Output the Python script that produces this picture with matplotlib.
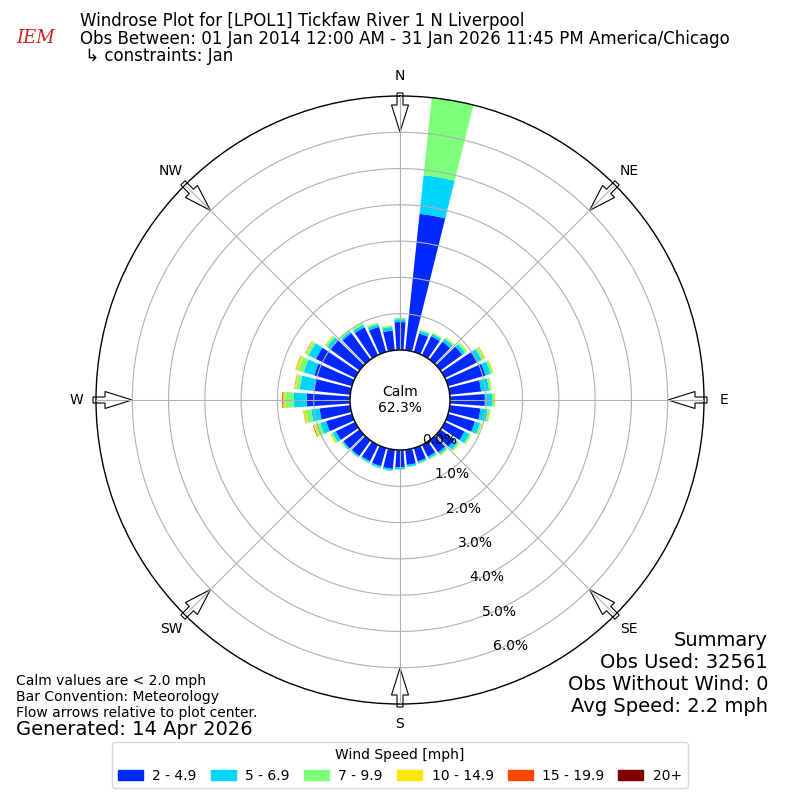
import numpy as np
import matplotlib
matplotlib.use("Agg")
import matplotlib.pyplot as plt
from matplotlib.patches import Circle, FancyArrow, Rectangle
from matplotlib.transforms import offset_copy

# Direction bins (degrees, meteorological) and percent frequency per speed bin
directions = np.arange(0, 360, 10)
speed_labels = ["2 - 4.9", "5 - 6.9", "7 - 9.9", "10 - 14.9", "15 - 19.9", "20+"]

spd_2_5 = [0.77, 3.78, 0.53, 0.58, 0.61, 0.74, 0.98, 1.07, 0.87, 0.96,
           0.85, 0.77, 0.60, 0.48, 0.41, 0.36, 0.38, 0.42, 0.48, 0.53,
           0.52, 0.50, 0.53, 0.55, 0.59, 0.74, 0.85, 1.19, 1.02, 1.08,
           1.20, 0.99, 0.90, 0.85, 0.72, 0.55]
spd_5_7 = [0.08, 1.07, 0.08, 0.07, 0.10, 0.10, 0.15, 0.15, 0.22, 0.20,
           0.20, 0.15, 0.15, 0.12, 0.06, 0.06, 0.05, 0.05, 0.05, 0.05,
           0.05, 0.05, 0.04, 0.04, 0.10, 0.17, 0.23, 0.37, 0.38, 0.30,
           0.22, 0.12, 0.06, 0.08, 0.08, 0.10]
spd_7_10 = [0.04, 2.15, 0.03, 0.03, 0.05, 0.06, 0.07, 0.07, 0.06, 0.07,
            0.06, 0.05, 0.05, 0.05, 0.04, 0.03, 0.02, 0.02, 0.02, 0.02,
            0.02, 0.02, 0.02, 0.03, 0.05, 0.14, 0.16, 0.23, 0.10, 0.17,
            0.08, 0.06, 0.05, 0.05, 0.04, 0.04]
spd_10_15 = [0.0, 0.0, 0.01, 0.01, 0.01, 0.02, 0.03, 0.02, 0.02, 0.02,
             0.02, 0.01, 0.01, 0.01, 0.01, 0.0, 0.0, 0.0, 0.0, 0.0,
             0.0, 0.0, 0.0, 0.0, 0.03, 0.05, 0.05, 0.05, 0.04, 0.06,
             0.03, 0.02, 0.01, 0.01, 0.01, 0.01]
spd_15_20 = [0.0, 0.0, 0.0, 0.0, 0.0, 0.0, 0.01, 0.0, 0.0, 0.0,
             0.0, 0.0, 0.0, 0.0, 0.0, 0.0, 0.0, 0.0, 0.0, 0.0,
             0.0, 0.0, 0.0, 0.0, 0.0, 0.02, 0.01, 0.03, 0.01, 0.01,
             0.01, 0.0, 0.0, 0.0, 0.0, 0.0]
spd_20 = [0.0] * 36

radial_ticks = [0, 1, 2, 3, 4, 5, 6]
compass = ["N", "NE", "E", "SE", "S", "SW", "W", "NW"]
summary = ["Summary", "Obs Used: 32561", "Obs Without Wind: 0",
           "Avg Speed: 2.2 mph"]

series = [spd_2_5, spd_5_7, spd_7_10, spd_10_15, spd_15_20, spd_20]
colors = plt.get_cmap("jet")(np.linspace(0, 1, 7)[1:])

fig = plt.figure(figsize=(8, 8), dpi=100)
ax = fig.add_axes([0.12, 0.12, 0.76, 0.76], projection="polar")
ax.set_theta_zero_location("N")
ax.set_theta_direction(-1)
ax.set_ylim(0, 7)
ax.set_rorigin(-1.378)
ax.set_axisbelow(False)

theta = np.deg2rad(directions)
width = np.deg2rad(8)
bottom = np.zeros(len(directions))
for vals, c, lab in zip(series, colors, speed_labels):
    vals = np.array(vals)
    ax.bar(theta, vals, width=width, bottom=bottom, color=c, linewidth=0,
           label=lab, zorder=1)
    bottom += vals

ax.set_xticks(np.deg2rad(np.arange(0, 360, 45)))
ax.set_xticklabels([])
ax.set_yticks(radial_ticks)
ax.set_yticklabels([])
ax.grid(True, color="#b0b0b0", linewidth=0.8)
ax.spines["polar"].set_linewidth(1.0)

# radial labels
lab_trans = offset_copy(ax.transData, fig=fig, x=23.7, y=7.3, units="dots")
for r in radial_ticks:
    ax.text(np.deg2rad(161), r, "%.1f%%" % r, transform=lab_trans,
            ha="center", va="center", fontsize=10, zorder=5)

# compass labels
for i, name in enumerate(compass):
    ax.text(np.deg2rad(i * 45), 7.55, name, ha="center", va="center",
            fontsize=10)

# calm circle
ax.add_patch(Circle((0.5, 0.5), 50 / 608, transform=ax.transAxes,
                    facecolor="white", edgecolor="black", linewidth=1.0,
                    zorder=3, clip_on=False))
ax.text(0.5, 0.5, "Calm\n62.3%", transform=ax.transAxes, ha="center",
        va="center", fontsize=10, zorder=4)

# flow arrows
for i in range(8):
    a = np.deg2rad(i * 45)
    ux, uy = np.sin(a), np.cos(a)
    x0, y0 = 4 + 3.07 * ux, 4 + 3.07 * uy
    ax.add_patch(FancyArrow(x0, y0, -0.39 * ux, -0.39 * uy, width=0.06,
                            head_width=0.17, head_length=0.27,
                            length_includes_head=True, facecolor="white",
                            edgecolor="black", linewidth=0.8,
                            transform=fig.dpi_scale_trans, clip_on=False,
                            zorder=2))

# titles
fig.text(0.1, 0.985, "Windrose Plot for [LPOL1] Tickfaw River 1 N Liverpool\n"
         "Obs Between: 01 Jan 2014 12:00 AM - 31 Jan 2026 11:45 PM America/Chicago\n"
         " \u21b3 constraints: Jan", ha="left", va="top", fontsize=12,
         linespacing=0.98)
fig.text(0.02, 0.952, "IEM", color="#d02020", fontsize=13, style="italic",
         family="DejaVu Serif", ha="left", va="center")

for i, line in enumerate(summary):
    fig.text(0.96, 0.2 - i * 0.0275, line, ha="right", va="center",
             fontsize=14)
fig.text(0.02, 0.1, "Calm values are < 2.0 mph\nBar Convention: Meteorology\n"
         "Flow arrows relative to plot center.", ha="left", va="bottom",
         fontsize=10)
fig.text(0.02, 0.088, "Generated: 14 Apr 2026", ha="left", va="center",
         fontsize=14)

handles = [Rectangle((0, 0), 1, 1, color=c) for c in colors]
fig.legend(handles, speed_labels, loc="lower center", ncol=6,
           bbox_to_anchor=(0.5, 0.006), title="Wind Speed [mph]", fontsize=10,
           title_fontsize=10, handlelength=1.8, columnspacing=1.0,
           handletextpad=0.7)

fig.savefig("out.png", dpi=100)
